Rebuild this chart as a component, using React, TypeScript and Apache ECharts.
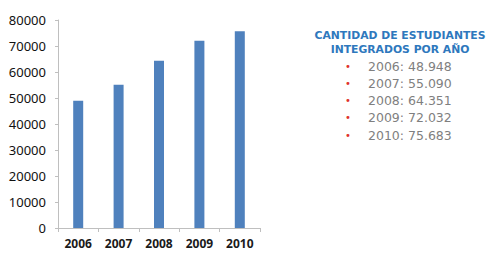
import React, { useEffect, useRef } from "react";
import * as echarts from "echarts";

const years = ["2006", "2007", "2008", "2009", "2010"];
const students = [48948, 55090, 64351, 72032, 75683];
const titleLines = ["CANTIDAD DE ESTUDIANTES", "INTEGRADOS POR AÑO"];

const fmt = (v: number) => String(v).replace(/\B(?=(\d{3})+(?!\d))/g, ".");

export default function App() {
  const ref = useRef<HTMLDivElement>(null);
  useEffect(() => {
    if (!ref.current) return;
    const chart = echarts.init(ref.current, undefined, { renderer: "svg" });
    const graphics: any[] = [];
    titleLines.forEach((t, i) => {
      graphics.push({
        type: "text",
        x: 400,
        y: 35 + i * 14,
        style: {
          text: t,
          fill: "#2E78BD",
          font: "bold 10.8px 'DejaVu Sans'",
          textAlign: "center",
          textVerticalAlign: "middle",
        },
      });
    });
    years.forEach((y, i) => {
      const cy = 66 + i * 17.3;
      graphics.push({
        type: "text",
        x: 348,
        y: cy,
        style: {
          text: "•",
          fill: "#E0302E",
          font: "10px 'DejaVu Sans'",
          textAlign: "center",
          textVerticalAlign: "middle",
        },
      });
      graphics.push({
        type: "text",
        x: 368,
        y: cy,
        style: {
          text: `${y}: ${fmt(students[i])}`,
          fill: "#7F7F7F",
          font: "12.5px 'DejaVu Sans'",
          textAlign: "left",
          textVerticalAlign: "middle",
        },
      });
    });
    chart.setOption({
      animation: false,
      backgroundColor: "#ffffff",
      grid: { left: 58, right: 229, top: 20, bottom: 28, containLabel: false },
      xAxis: {
        type: "category",
        data: years,
        axisLine: { lineStyle: { color: "#BFBFBF" } },
        axisTick: { show: true, length: 4, lineStyle: { color: "#BFBFBF" } },
        axisLabel: {
          color: "#1a1a1a",
          fontFamily: "Noto Sans",
          fontWeight: "bold",
          fontSize: 12,
          margin: 9,
        },
      },
      yAxis: {
        type: "value",
        min: 0,
        max: 80000,
        interval: 10000,
        splitLine: { show: false },
        axisLine: { show: true, lineStyle: { color: "#BFBFBF" } },
        axisTick: { show: true, length: 3, lineStyle: { color: "#BFBFBF" } },
        axisLabel: {
          color: "#111111",
          fontFamily: "Noto Sans",
          fontSize: 13,
          margin: 12,
          formatter: (v: number) => String(v),
        },
      },
      series: [
        {
          type: "bar",
          data: students,
          barWidth: 10,
          itemStyle: { color: "#4F81BD" },
        },
      ],
      graphic: graphics,
    });
    return () => chart.dispose();
  }, []);
  return <div ref={ref} style={{ width: 489, height: 256, position: "absolute", left: 0, top: 0 }} />;
}
